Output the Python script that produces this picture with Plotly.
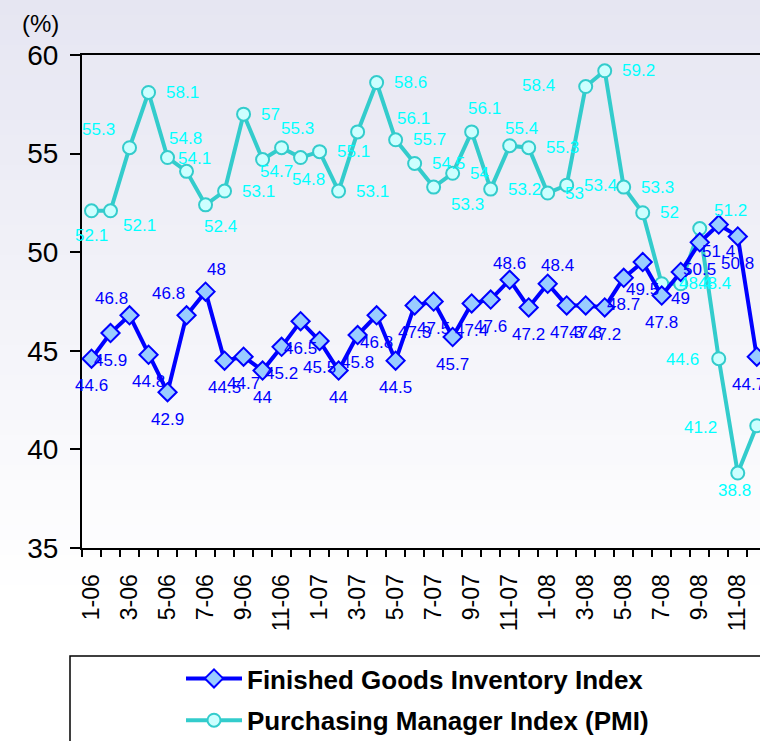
import plotly.graph_objects as go

# ── data ──
MONTHS = [f"{m}-{y:02d}" for y in (6, 7, 8) for m in range(1, 13)]

FGI = [44.6, 45.9, 46.8, 44.8, 42.9, 46.8, 48.0, 44.5, 44.7, 44.0, 45.2, 46.5,
       45.5, 44.0, 45.8, 46.8, 44.5, 47.3, 47.5, 45.7, 47.4, 47.6, 48.6, 47.2,
       48.4, 47.3, 47.3, 47.2, 48.7, 49.5, 47.8, 49.0, 50.5, 51.4, 50.8, 44.7]

PMI = [52.1, 52.1, 55.3, 58.1, 54.8, 54.1, 52.4, 53.1, 57.0, 54.7, 55.3, 54.8,
       55.1, 53.1, 56.1, 58.6, 55.7, 54.5, 53.3, 54.0, 56.1, 53.2, 55.4, 55.3,
       53.0, 53.4, 58.4, 59.2, 53.3, 52.0, 48.4, 48.4, 51.2, 44.6, 38.8, 41.2]

Y_TICKS = [35, 40, 45, 50, 55, 60]

# ── style ──
BLUE = '#0000FF'
TEAL = '#33CCCC'
NARROW = 'Liberation Sans Narrow, Arial Narrow, Liberation Sans, Arial, sans-serif'
SANS = 'Liberation Sans, Arial, sans-serif'

# label offsets in px (right, down); blue default is below, cyan default is right
FGI_SHIFT = {2: (-18, -17), 5: (-18, -22), 6: (11, -22), 22: (0, -16),
             24: (10, -18), 35: (-8, 28)}
PMI_SHIFT = {0: (0, 25), 1: (29, 15), 2: (-31, -18), 4: (18, -19), 5: (8, -13),
             6: (15, 22), 9: (14, 12), 10: (16, -19), 11: (8, 22), 14: (56, -13),
             18: (34, 17), 20: (13, -23), 22: (12, -17), 26: (-47, -1),
             32: (31, -18), 33: (-36, 1), 34: (-3, 17), 35: (-56, 2)}

# plot box in px: left 82, right 760, top 55, bottom 548
PL, PR, PT, PB = 82, 760, 55, 548


def px_x(v):
    return (v - PL) / (PR - PL)


def px_y(v):
    return (PB - v) / (PB - PT)


x = list(range(len(MONTHS)))

fig = go.Figure()
fig.add_trace(go.Scatter(
    x=x, y=PMI, mode='lines+markers', name='Purchasing Manager Index (PMI)',
    line=dict(color=TEAL, width=4),
    marker=dict(symbol='circle', size=13, color='#CCFFFF',
                line=dict(color=TEAL, width=2)),
    legendrank=2, legendgroup='b',
))
fig.add_trace(go.Scatter(
    x=x, y=FGI, mode='lines+markers', name='Finished Goods Inventory Index',
    line=dict(color=BLUE, width=4),
    marker=dict(symbol='diamond', size=14, color='#99CCFF',
                line=dict(color=BLUE, width=2)),
    legendrank=1, legendgroup='a',
))

annots = []
for i, v in enumerate(FGI):
    dx, dy = FGI_SHIFT.get(i, (0, 27))
    annots.append(dict(x=i, y=v, text=f"{v:g}", showarrow=False,
                       xanchor='center', yanchor='middle', xshift=dx, yshift=-dy,
                       font=dict(family=NARROW, size=17, color=BLUE)))
for i, v in enumerate(PMI):
    if i in PMI_SHIFT:
        dx, dy = PMI_SHIFT[i]
        xa = 'center'
    else:
        dx, dy = 15, 0
        xa = 'left'
    annots.append(dict(x=i, y=v, text=f"{v:g}", showarrow=False,
                       xanchor=xa, yanchor='middle', xshift=dx, yshift=-dy,
                       font=dict(family=NARROW, size=17, color='#00FFFF')))

annots.append(dict(text='(%)', xref='paper', yref='paper', x=px_x(40), y=px_y(23),
                   showarrow=False, xanchor='center', yanchor='middle',
                   font=dict(family=SANS, size=24, color='black')))

# background gradient (lavender at top fading to white)
shapes = []
top_c, bot_c = (230, 230, 242), (255, 255, 255)
n = 40
for k in range(n):
    y0 = 600 * k / n
    y1 = 600 * (k + 1) / n + 1
    t = k / (n - 1)
    c = tuple(round(a + (b - a) * t) for a, b in zip(top_c, bot_c))
    shapes.append(dict(type='rect', xref='paper', yref='paper', layer='below',
                       x0=px_x(-5), x1=px_x(770), y0=px_y(y0), y1=px_y(y1),
                       fillcolor=f'rgb{c}', line=dict(width=0)))

# legend frame
shapes.append(dict(type='rect', xref='paper', yref='paper', layer='above',
                   x0=px_x(70), x1=px_x(800), y0=px_y(656), y1=px_y(780),
                   fillcolor='rgba(0,0,0,0)', line=dict(color='black', width=1.5)))

fig.update_layout(
    width=760, height=741,
    paper_bgcolor='white', plot_bgcolor='rgba(0,0,0,0)',
    margin=dict(l=PL, r=0, t=PT, b=741 - PB, autoexpand=False),
    font=dict(family=SANS, color='black'),
    showlegend=True,
    legend=dict(x=px_x(181), y=px_y(655), xanchor='left', yanchor='top',
                bgcolor='rgba(0,0,0,0)', borderwidth=0, tracegroupgap=5,
                itemwidth=56,
                font=dict(family=SANS, size=26, color='black', weight='bold')),
    xaxis=dict(range=[-0.5, 35.17], showgrid=False, zeroline=False,
               showline=True, linecolor='black', linewidth=2, mirror=True,
               tickmode='array', tickvals=x[::2], ticktext=MONTHS[::2],
               ticks='', tickangle=-90, ticklabelstandoff=15, automargin=False,
               tickfont=dict(family=SANS, size=23, color='black'),
               minor=dict(ticks='outside', tickmode='array',
                          tickvals=[i - 0.5 for i in x], ticklen=7,
                          tickwidth=2, tickcolor='black', showgrid=False)),
    yaxis=dict(range=[35, 60], showgrid=False, zeroline=False,
               showline=True, linecolor='black', linewidth=2,
               tickmode='array', tickvals=Y_TICKS, ticks='outside',
               ticklen=10, tickwidth=2, tickcolor='black',
               ticklabelstandoff=6, automargin=False,
               tickfont=dict(family=SANS, size=28, color='black')),
    annotations=annots,
    shapes=shapes,
)

fig.write_html("out.html", config={'displayModeBar': False},
               post_script="document.body.style.margin='0';"
                           "document.body.style.overflow='hidden';")
